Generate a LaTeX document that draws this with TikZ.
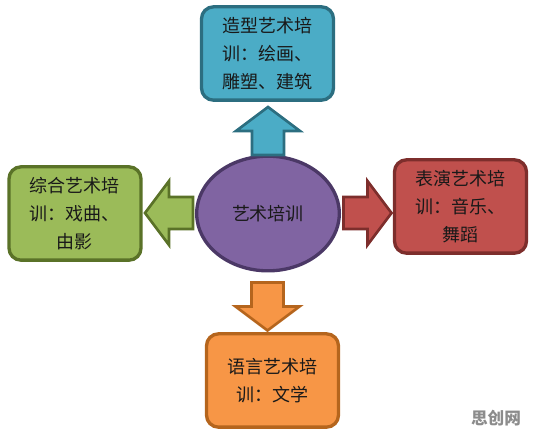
\documentclass[tikz,border=0pt]{standalone}
\usepackage{fontspec}
\newfontfamily\cjk{Noto Sans CJK SC}
\usepackage{tikz}
\usetikzlibrary{shapes.geometric, positioning}
\usepackage{xcolor}
\definecolor{tealfill}{HTML}{4BACC6}
\definecolor{tealline}{HTML}{2C6E80}
\definecolor{greenfill}{HTML}{9BBB59}
\definecolor{greenline}{HTML}{5A7228}
\definecolor{redfill}{HTML}{C0504D}
\definecolor{redline}{HTML}{7D2E2C}
\definecolor{orangefill}{HTML}{F79646}
\definecolor{orangeline}{HTML}{B5651D}
\definecolor{purplefill}{HTML}{8064A2}
\definecolor{purpleline}{HTML}{4B3866}

\begin{document}
\begin{tikzpicture}[x=0.75pt, y=-0.75pt,
    every node/.style={font=\cjk\fontsize{13.5pt}{21pt}\selectfont, text=black!90},
    topic/.style={draw, line width=2.5pt, rounded corners=9pt, align=center,
        minimum width=99pt, minimum height=70pt, inner sep=2pt},
    fatarrow/.pic={
        \path[pic actions, line width=2pt, line join=miter]
            (-24,-16) -- (0,-16) -- (0,-32) -- (24,0) -- (0,32) -- (0,16) -- (-24,16) -- cycle;
    }]
        % Frame
        \useasboundingbox (0,0) rectangle (537,435);
        % Centre
        \node[ellipse, draw=purpleline, fill=purplefill, line width=2.5pt,
            minimum width=107pt, minimum height=86pt] (yishu) at (268,213.5) {艺术培训};
        % Topics
        \node[topic, draw=tealline, fill=tealfill] (zaoxing) at (267.5,53.5)
            {造型艺术培\\训：绘画、\\雕塑、建筑};
        \node[topic, draw=greenline, fill=greenfill] (zonghe) at (75,213.5)
            {综合艺术培\\训：戏曲、\\由影};
        \node[topic, draw=redline, fill=redfill] (biaoyan) at (460.5,206.5)
            {表演艺术培\\训：音乐、\\舞蹈};
        \node[topic, draw=orangeline, fill=orangefill] (yuyan) at (272.5,380.5)
            {语言艺术培\\训：文学};
        % Arrows
        \pic[draw=tealline, fill=tealfill, rotate=90] (upArrow) at (268,131) {fatarrow};
        \pic[draw=greenline, fill=greenfill, rotate=180] (leftArrow) at (169,213) {fatarrow};
        \pic[draw=redline, fill=redfill] (rightArrow) at (367.5,213) {fatarrow};
        \pic[draw=orangeline, fill=orangefill, rotate=-90] (downArrow) at (267.5,306.5) {fatarrow};
        % Watermark
        \node[font=\cjk\bfseries\fontsize{12.5pt}{14pt}\selectfont, text=black!45] (mark) at (496,418) {思创网};
\end{tikzpicture}
\end{document}
